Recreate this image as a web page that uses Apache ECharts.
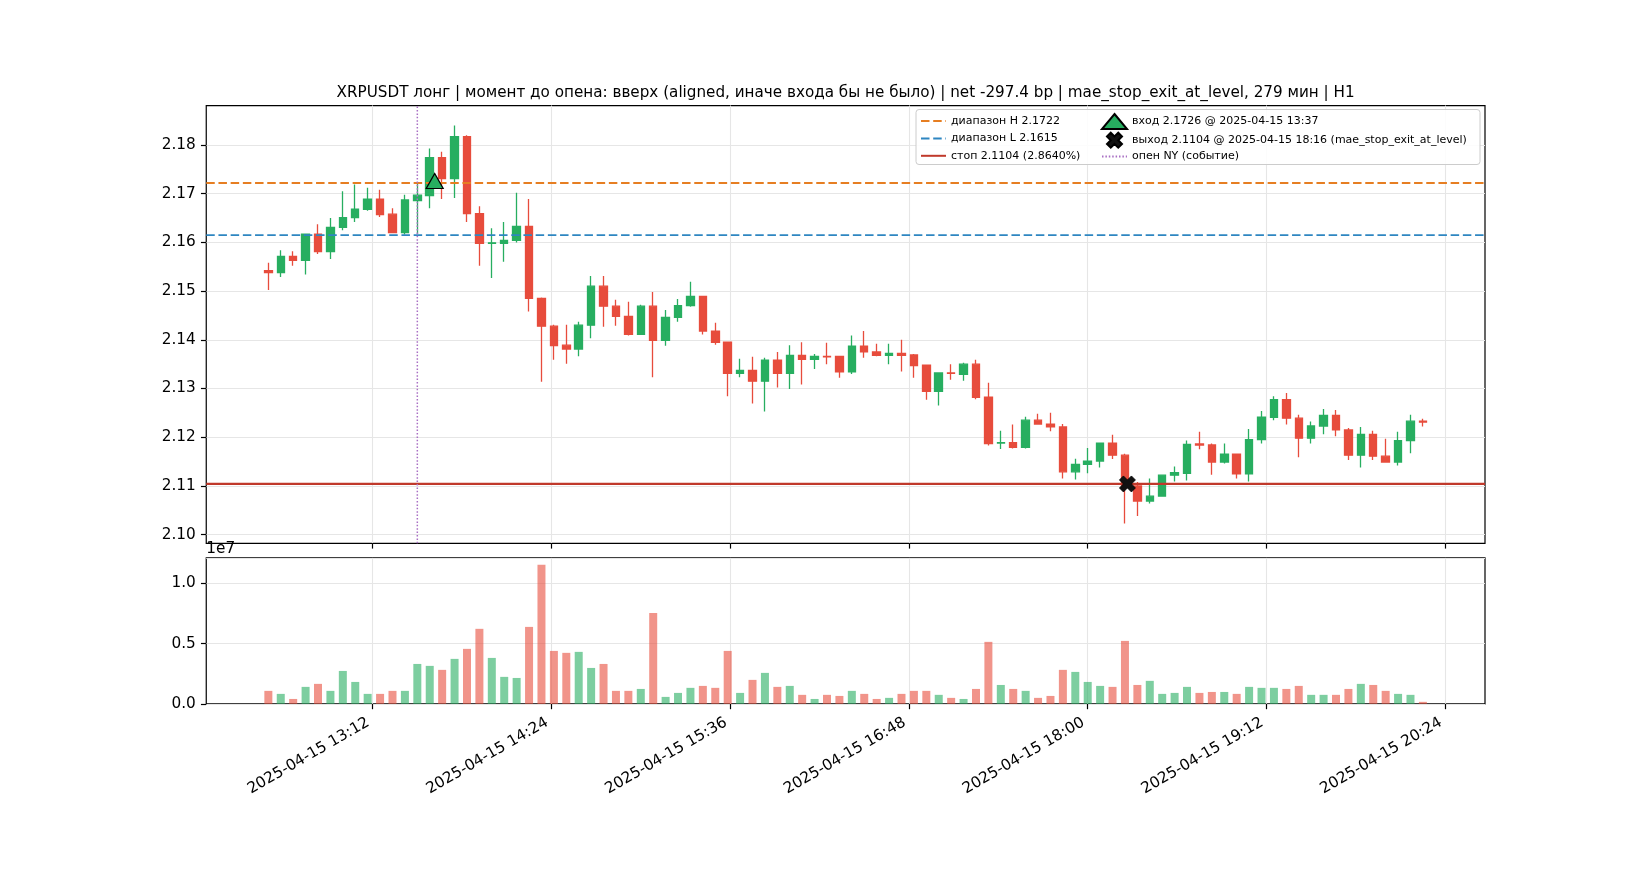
<!DOCTYPE html>
<html>
<head>
<meta charset="utf-8">
<title>XRPUSDT лонг</title>
<script src="https://cdn.jsdelivr.net/npm/echarts@6/dist/echarts.min.js"></script>
<style>
  html, body { margin: 0; padding: 0; background: #fff; }
  #chart { width: 1650px; height: 880px; }
</style>
</head>
<body>
<div id="chart"></div>
<script>
// 5-минутные свечи, 2025-04-15 (UTC)
const times = [
  '12:30', '12:35', '12:40', '12:45', '12:50', '12:55',
  '13:00', '13:05', '13:10', '13:15', '13:20', '13:25', '13:30', '13:35', '13:40', '13:45', '13:50', '13:55',
  '14:00', '14:05', '14:10', '14:15', '14:20', '14:25', '14:30', '14:35', '14:40', '14:45', '14:50', '14:55',
  '15:00', '15:05', '15:10', '15:15', '15:20', '15:25', '15:30', '15:35', '15:40', '15:45', '15:50', '15:55',
  '16:00', '16:05', '16:10', '16:15', '16:20', '16:25', '16:30', '16:35', '16:40', '16:45', '16:50', '16:55',
  '17:00', '17:05', '17:10', '17:15', '17:20', '17:25', '17:30', '17:35', '17:40', '17:45', '17:50', '17:55',
  '18:00', '18:05', '18:10', '18:15', '18:20', '18:25', '18:30', '18:35', '18:40', '18:45', '18:50', '18:55',
  '19:00', '19:05', '19:10', '19:15', '19:20', '19:25', '19:30', '19:35', '19:40', '19:45', '19:50', '19:55',
  '20:00', '20:05', '20:10', '20:15'
]
const opens = [
  2.1542, 2.1538, 2.1571, 2.1563, 2.1617, 2.1581,
  2.1631, 2.1651, 2.1668, 2.1689, 2.1658, 2.1620, 2.1686, 2.1696, 2.1774, 2.1731, 2.1817, 2.1659,
  2.1598, 2.1598, 2.1604, 2.1633, 2.1485, 2.1428, 2.1389, 2.1381, 2.1430, 2.1510, 2.1469, 2.1448,
  2.1411, 2.1469, 2.1399, 2.1446, 2.1470, 2.1489, 2.1418, 2.1395, 2.1331, 2.1337, 2.1315, 2.1358,
  2.1331, 2.1368, 2.1360, 2.1366, 2.1366, 2.1334, 2.1387, 2.1375, 2.1368, 2.1372, 2.1369, 2.1348,
  2.1294, 2.1332, 2.1329, 2.1350, 2.1282, 2.1188, 2.1189, 2.1179, 2.1235, 2.1227, 2.1221, 2.1129,
  2.1144, 2.1151, 2.1188, 2.1163, 2.1100, 2.1069, 2.1079, 2.1122, 2.1126, 2.1186, 2.1184, 2.1149,
  2.1165, 2.1125, 2.1195, 2.1241, 2.1277, 2.1239, 2.1198, 2.1223, 2.1245, 2.1215, 2.1163, 2.1206,
  2.1161, 2.1149, 2.1193, 2.1233
]
const closes = [
  2.1538, 2.1571, 2.1563, 2.1617, 2.1581, 2.1631,
  2.1651, 2.1668, 2.1689, 2.1657, 2.1620, 2.1687, 2.1697, 2.1774, 2.1731, 2.1817, 2.1659, 2.1598,
  2.1599, 2.1604, 2.1633, 2.1485, 2.1428, 2.1388, 2.1381, 2.1430, 2.1510, 2.1469, 2.1448, 2.1411,
  2.1469, 2.1399, 2.1446, 2.1470, 2.1489, 2.1418, 2.1395, 2.1331, 2.1337, 2.1315, 2.1358, 2.1331,
  2.1368, 2.1360, 2.1366, 2.1365, 2.1334, 2.1387, 2.1375, 2.1368, 2.1372, 2.1368, 2.1347, 2.1294,
  2.1332, 2.1331, 2.1350, 2.1282, 2.1187, 2.1189, 2.1179, 2.1235, 2.1227, 2.1221, 2.1129, 2.1144,
  2.1151, 2.1188, 2.1163, 2.1100, 2.1069, 2.1079, 2.1122, 2.1127, 2.1185, 2.1184, 2.1149, 2.1165,
  2.1125, 2.1195, 2.1241, 2.1277, 2.1239, 2.1198, 2.1223, 2.1245, 2.1215, 2.1163, 2.1206, 2.1161,
  2.1149, 2.1193, 2.1233, 2.1231
]
const lows = [
  2.1502, 2.1529, 2.1552, 2.1534, 2.1576, 2.1566,
  2.1625, 2.1642, 2.1665, 2.1652, 2.1619, 2.1616, 2.1617, 2.1670, 2.1689, 2.1691, 2.1642, 2.1552,
  2.1527, 2.1560, 2.1600, 2.1458, 2.1314, 2.1359, 2.1351, 2.1366, 2.1403, 2.1427, 2.1429, 2.1409,
  2.1411, 2.1323, 2.1388, 2.1437, 2.1468, 2.1411, 2.1390, 2.1284, 2.1323, 2.1269, 2.1253, 2.1302,
  2.1299, 2.1308, 2.1340, 2.1350, 2.1322, 2.1330, 2.1363, 2.1366, 2.1350, 2.1335, 2.1322, 2.1277,
  2.1265, 2.1318, 2.1316, 2.1278, 2.1183, 2.1176, 2.1177, 2.1177, 2.1227, 2.1212, 2.1115, 2.1113,
  2.1126, 2.1138, 2.1155, 2.1023, 2.1038, 2.1064, 2.1079, 2.1109, 2.1111, 2.1175, 2.1123, 2.1146,
  2.1115, 2.1109, 2.1187, 2.1235, 2.1226, 2.1159, 2.1187, 2.1206, 2.1202, 2.1153, 2.1138, 2.1153,
  2.1149, 2.1142, 2.1167, 2.1222
]
const highs = [
  2.1558, 2.1584, 2.1582, 2.1617, 2.1637, 2.1650,
  2.1705, 2.1719, 2.1712, 2.1708, 2.1670, 2.1698, 2.1724, 2.1793, 2.1786, 2.1840, 2.1820, 2.1674,
  2.1629, 2.1642, 2.1702, 2.1689, 2.1487, 2.1431, 2.1431, 2.1437, 2.1531, 2.1531, 2.1482, 2.1478,
  2.1472, 2.1498, 2.1461, 2.1484, 2.1519, 2.1489, 2.1435, 2.1395, 2.1361, 2.1365, 2.1363, 2.1375,
  2.1389, 2.1395, 2.1371, 2.1394, 2.1366, 2.1409, 2.1418, 2.1392, 2.1392, 2.1400, 2.1371, 2.1348,
  2.1332, 2.1350, 2.1353, 2.1359, 2.1312, 2.1213, 2.1226, 2.1242, 2.1248, 2.1250, 2.1227, 2.1156,
  2.1178, 2.1188, 2.1205, 2.1166, 2.1108, 2.1115, 2.1122, 2.1140, 2.1193, 2.1211, 2.1187, 2.1187,
  2.1165, 2.1217, 2.1254, 2.1284, 2.1291, 2.1246, 2.1232, 2.1258, 2.1256, 2.1219, 2.1221, 2.1213,
  2.1197, 2.1211, 2.1246, 2.1238
]
// объём, млн
const volumesM = [
  1.08, 0.83, 0.41, 1.41, 1.66, 1.08,
  2.73, 1.82, 0.83, 0.83, 1.08, 1.08, 3.31, 3.15, 2.82, 3.73, 4.56, 6.22,
  3.81, 2.24, 2.15, 6.38, 11.52, 4.39, 4.23, 4.31, 2.98, 3.31, 1.08, 1.08,
  1.24, 7.54, 0.58, 0.91, 1.33, 1.49, 1.33, 4.39, 0.91, 1.99, 2.57, 1.41,
  1.49, 0.75, 0.41, 0.75, 0.66, 1.08, 0.83, 0.41, 0.50, 0.83, 1.08, 1.08,
  0.75, 0.50, 0.41, 1.24, 5.14, 1.57, 1.24, 1.08, 0.50, 0.66, 2.82, 2.65,
  1.82, 1.49, 1.41, 5.22, 1.57, 1.91, 0.83, 0.91, 1.41, 0.91, 0.99, 0.99,
  0.83, 1.41, 1.33, 1.33, 1.24, 1.49, 0.75, 0.75, 0.75, 1.24, 1.66, 1.57,
  1.08, 0.83, 0.75, 0.17
]

const tickLabels = [
  '2025-04-15 13:12', '2025-04-15 14:24', '2025-04-15 15:36', '2025-04-15 16:48',
  '2025-04-15 18:00', '2025-04-15 19:12', '2025-04-15 20:24'
]
const priceTicks = [2.10, 2.11, 2.12, 2.13, 2.14, 2.15, 2.16, 2.17, 2.18]

// уровни и события
const levelH = 2.1722
const levelL = 2.1615
const stopLevel = 2.1104
const entryTime = '13:37'
const entryPrice = 2.1726
const exitTime = '18:16'
const exitPrice = 2.1104
const nyOpenTime = '13:30'

const titleText = 'XRPUSDT лонг | момент до опена: вверх (aligned, иначе входа бы не было) | net -297.4 bp | mae_stop_exit_at_level, 279 мин | H1'
const nameH = 'диапазон H 2.1722'
const nameL = 'диапазон L 2.1615'
const nameStop = 'стоп 2.1104 (2.8640%)'
const nameEntry = 'вход 2.1726 @ 2025-04-15 13:37'
const nameExit = 'выход 2.1104 @ 2025-04-15 18:16 (mae_stop_exit_at_level)'
const nameNY = 'опен NY (событие)'

const GREEN = '#27ae60'
const RED = '#e74c3c'
const GREEN_V = 'rgba(39,174,96,0.6)'
const RED_V = 'rgba(231,76,60,0.6)'
const FONT = 'DejaVu Sans'
const TICK_FONT = 15.3

// время -> минуты от полуночи
function toMin(s) {
    const parts = s.split(' ')
    const hm = parts[parts.length - 1].split(':')
    return Number(hm[0]) * 60 + Number(hm[1])
}

const xs = times.map(toMin)
const tickVals = tickLabels.map(toMin)
const tickMap = {}
tickVals.forEach((v, i) => { tickMap[v] = tickLabels[i] })

// поля как в matplotlib (5%)
const halfBar = 1.6
const xSpan = xs[xs.length - 1] - xs[0] + 2 * halfBar
const xMin = xs[0] - halfBar - 0.05 * xSpan
const xMax = xs[xs.length - 1] + halfBar + 0.05 * xSpan
const lo = Math.min(...lows)
const hi = Math.max(...highs)
const yMin = lo - 0.05 * (hi - lo)
const yMax = hi + 0.05 * (hi - lo)
const volumes = volumesM.map(v => v * 1e6)
const volMax = Math.max(...volumes) * 1.05

const candleData = xs.map((x, i) => [x, opens[i], closes[i], lows[i], highs[i]])
const volumeData = xs.map((x, i) => ({
    value: [x, volumes[i]],
    itemStyle: { color: closes[i] >= opens[i] ? GREEN_V : RED_V }
}))

const gridLine = { show: true, lineStyle: { color: '#e6e6e6', width: 1.1 } }
const tickStyle = { color: '#000', width: 1.2 }
const X_SHAPE = 'path://M0,2.5 L2.5,0 L5,2.5 L7.5,0 L10,2.5 L7.5,5 L10,7.5 L7.5,10 L5,7.5 L2.5,10 L0,7.5 L2.5,5 Z'
// у линий в легенде не нужен кружок
const noDot = { opacity: 0 }

const chart = echarts.init(document.getElementById('chart'), null, { renderer: 'canvas' })

const option = {
    animation: false,
    backgroundColor: '#fff',
    textStyle: { fontFamily: FONT },
    title: {
        text: titleText,
        left: 845.6,
        textAlign: 'center',
        top: 86,
        padding: 0,
        textStyle: { fontFamily: FONT, fontSize: 15.2, fontWeight: 'normal', color: '#000' }
    },
    graphic: [{
        type: 'rect',
        left: 915.5,
        top: 109,
        z: 10,
        shape: { width: 564, height: 55, r: 3 },
        style: { fill: 'rgba(255,255,255,0.85)', stroke: '#cccccc', lineWidth: 1 }
    }],
    legend: [
        {
            data: [
                { name: nameH, itemStyle: noDot },
                { name: nameL, itemStyle: noDot },
                { name: nameStop, itemStyle: noDot }
            ],
            orient: 'vertical',
            left: 920,
            top: 115.5,
            padding: 0,
            itemWidth: 25,
            itemHeight: 12,
            itemGap: 6.4,
            selectedMode: false,
            z: 11,
            textStyle: { fontFamily: FONT, fontSize: 11, color: '#000' }
        },
        {
            data: [nameEntry, nameExit, { name: nameNY, itemStyle: noDot }],
            orient: 'vertical',
            left: 1101,
            top: 113,
            padding: 0,
            itemWidth: 25,
            itemHeight: 15,
            itemGap: 1.7,
            selectedMode: false,
            z: 11,
            textStyle: { fontFamily: FONT, fontSize: 11, color: '#000' }
        }
    ],
    grid: [
        { left: 206.25, top: 105.6, width: 1278.75, height: 437.7, show: true, borderColor: '#000', borderWidth: 1.2, containLabel: false },
        { left: 206.25, top: 557.9, width: 1278.75, height: 146, show: true, borderColor: '#000', borderWidth: 1.2, containLabel: false }
    ],
    xAxis: [
        {
            type: 'value', gridIndex: 0, min: xMin, max: xMax,
            axisLine: { show: false },
            axisTick: { show: true, length: 5.3, customValues: tickVals, lineStyle: tickStyle },
            axisLabel: { show: false, customValues: tickVals },
            splitLine: gridLine
        },
        {
            type: 'value', gridIndex: 1, min: xMin, max: xMax,
            axisLine: { show: false },
            axisTick: { show: true, length: 5.3, customValues: tickVals, lineStyle: tickStyle },
            axisLabel: {
                show: true, customValues: tickVals, rotate: 30, margin: 15,
                padding: [0, 5, 0, 0],
                fontFamily: FONT, fontSize: TICK_FONT, color: '#000',
                formatter: v => tickMap[v] || ''
            },
            splitLine: gridLine
        }
    ],
    yAxis: [
        {
            type: 'value', gridIndex: 0, min: yMin, max: yMax, scale: true,
            axisLine: { show: false },
            axisTick: { show: true, length: 5.3, customValues: priceTicks, lineStyle: tickStyle },
            axisLabel: {
                customValues: priceTicks, margin: 10.5,
                fontFamily: FONT, fontSize: TICK_FONT, color: '#000',
                formatter: v => v.toFixed(2)
            },
            splitLine: gridLine
        },
        {
            type: 'value', gridIndex: 1, min: 0, max: volMax, interval: 5e6,
            name: '1e7', nameLocation: 'end', nameGap: 1,
            nameTextStyle: { fontFamily: FONT, fontSize: TICK_FONT, color: '#000', align: 'left', verticalAlign: 'bottom' },
            axisLine: { show: false },
            axisTick: { show: true, length: 5.3, lineStyle: tickStyle },
            axisLabel: {
                margin: 10.5, showMaxLabel: false,
                fontFamily: FONT, fontSize: TICK_FONT, color: '#000',
                formatter: v => (v / 1e7).toFixed(1)
            },
            splitLine: gridLine
        }
    ],
    series: [
        {
            name: 'свечи',
            type: 'candlestick',
            xAxisIndex: 0, yAxisIndex: 0,
            data: candleData,
            barWidth: 8,
            z: 2,
            itemStyle: {
                color: GREEN, color0: RED,
                borderColor: GREEN, borderColor0: RED,
                borderWidth: 1.3
            }
        },
        {
            name: nameH, type: 'line', xAxisIndex: 0, yAxisIndex: 0,
            data: [[xMin, levelH], [xMax, levelH]],
            symbol: 'none', silent: true, z: 3,
            itemStyle: { color: '#e67e22' },
            lineStyle: { color: '#e67e22', width: 1.9, type: [8.5, 3.7] }
        },
        {
            name: nameL, type: 'line', xAxisIndex: 0, yAxisIndex: 0,
            data: [[xMin, levelL], [xMax, levelL]],
            symbol: 'none', silent: true, z: 3,
            itemStyle: { color: '#2e86c1' },
            lineStyle: { color: '#2e86c1', width: 1.9, type: [8.5, 3.7] }
        },
        {
            name: nameStop, type: 'line', xAxisIndex: 0, yAxisIndex: 0,
            data: [[xMin, stopLevel], [xMax, stopLevel]],
            symbol: 'none', silent: true, z: 3,
            itemStyle: { color: '#c0392b' },
            lineStyle: { color: '#c0392b', width: 2.2, type: 'solid' }
        },
        {
            name: nameNY, type: 'line', xAxisIndex: 0, yAxisIndex: 0,
            data: [[toMin(nyOpenTime), yMin], [toMin(nyOpenTime), yMax]],
            symbol: 'none', silent: true, z: 3,
            itemStyle: { color: '#a96fc4' },
            lineStyle: { color: '#a96fc4', width: 1.5, type: [1.5, 1.9] }
        },
        {
            name: nameEntry, type: 'scatter', xAxisIndex: 0, yAxisIndex: 0,
            data: [[toMin(entryTime), entryPrice]],
            symbol: 'triangle', symbolSize: [17, 15], z: 5,
            itemStyle: { color: GREEN, borderColor: '#000', borderWidth: 1.2, opacity: 1 }
        },
        {
            name: nameExit, type: 'scatter', xAxisIndex: 0, yAxisIndex: 0,
            data: [[toMin(exitTime), exitPrice]],
            symbol: X_SHAPE, symbolSize: 16, z: 5,
            itemStyle: { color: '#111', borderColor: '#000', borderWidth: 0.8, opacity: 1 }
        },
        {
            name: 'объём', type: 'bar',
            xAxisIndex: 1, yAxisIndex: 1,
            data: volumeData,
            barWidth: 8
        }
    ]
}

chart.setOption(option)
</script>
</body>
</html>
